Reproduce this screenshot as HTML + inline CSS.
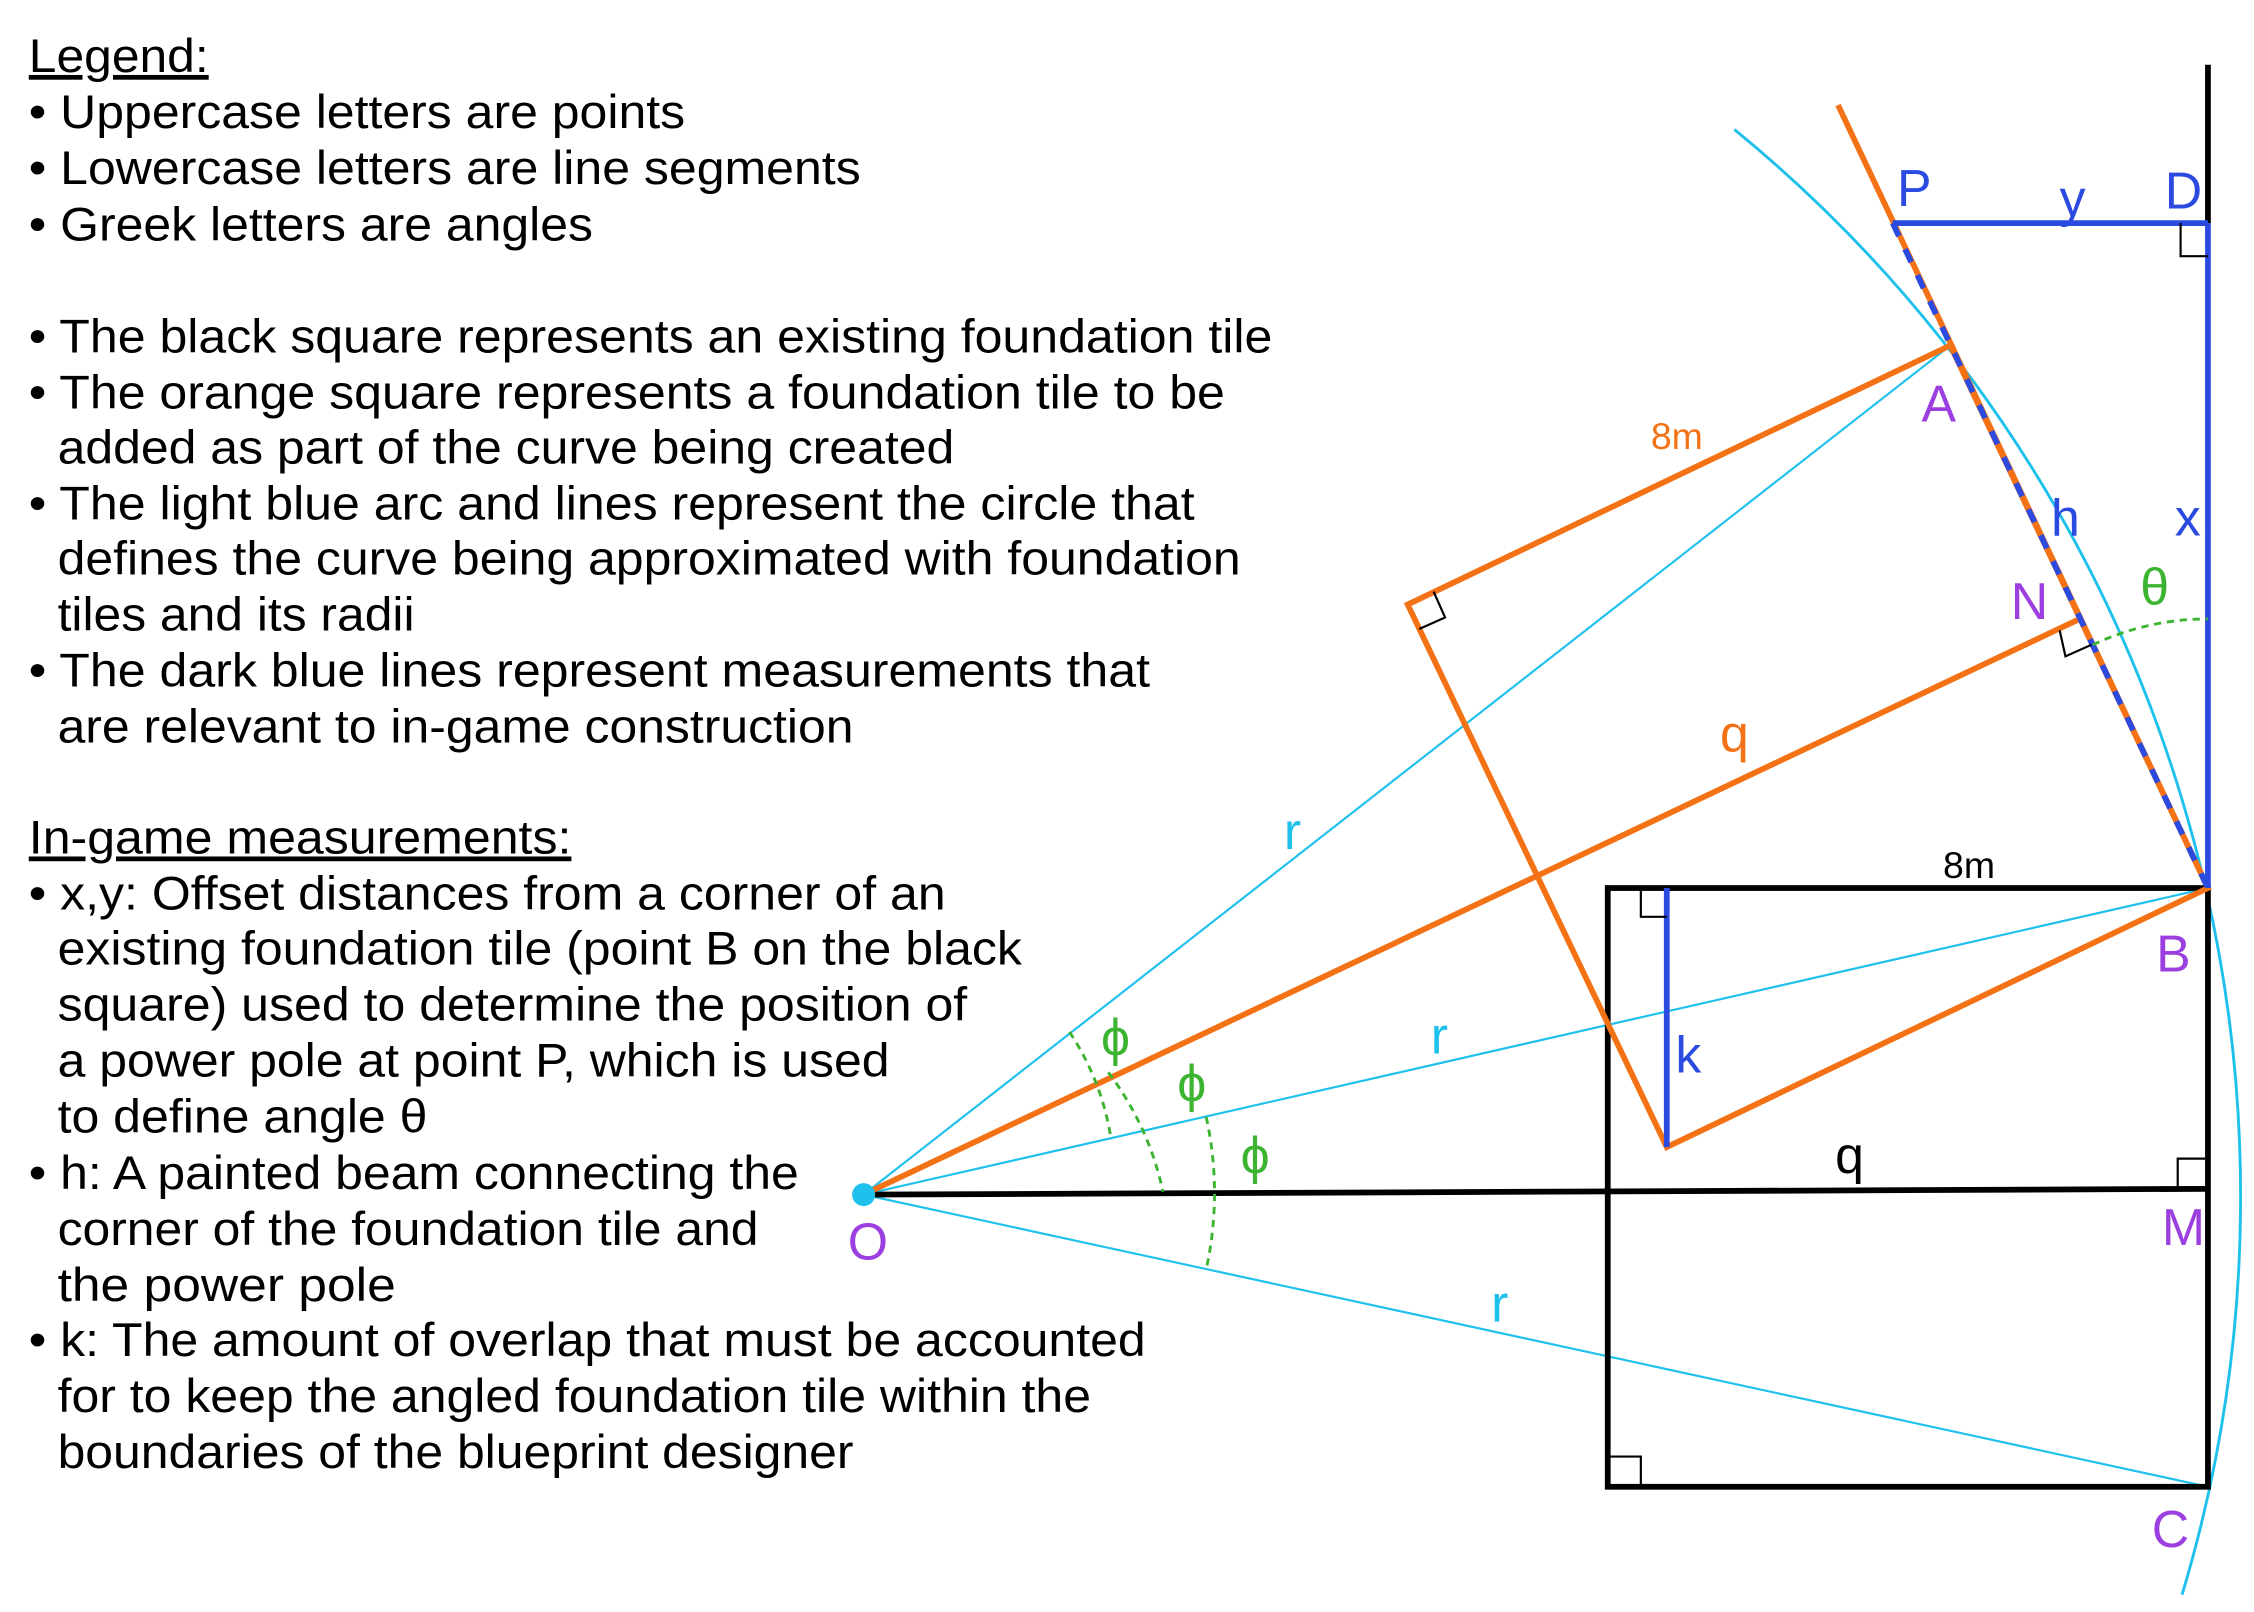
<!DOCTYPE html>
<html><head><meta charset="utf-8"><style>
html,body{margin:0;padding:0;background:#fff;}
svg{display:block;}
text{font-family:"Liberation Sans",sans-serif;}
</style></head><body>
<svg width="2254" height="1612" viewBox="0 0 1566 1120" preserveAspectRatio="none" xmlns="http://www.w3.org/2000/svg">
<rect width="1566" height="1120" fill="#fff"/>
<g font-size="33" fill="#000" lengthAdjust="spacingAndGlyphs">
<text x="20" y="50" text-decoration="underline" textLength="125" lengthAdjust="spacingAndGlyphs">Legend:</text>
<text x="20" y="89" textLength="456" lengthAdjust="spacingAndGlyphs">• Uppercase letters are points</text>
<text x="20" y="128" textLength="578" lengthAdjust="spacingAndGlyphs">• Lowercase letters are line segments</text>
<text x="20" y="167" textLength="392" lengthAdjust="spacingAndGlyphs">• Greek letters are angles</text>
<text x="20" y="245" textLength="864" lengthAdjust="spacingAndGlyphs">• The black square represents an existing foundation tile</text>
<text x="20" y="284" textLength="831" lengthAdjust="spacingAndGlyphs">• The orange square represents a foundation tile to be</text>
<text x="40" y="322" textLength="623" lengthAdjust="spacingAndGlyphs">added as part of the curve being created</text>
<text x="20" y="361" textLength="810" lengthAdjust="spacingAndGlyphs">• The light blue arc and lines represent the circle that</text>
<text x="40" y="399" textLength="822" lengthAdjust="spacingAndGlyphs">defines the curve being approximated with foundation</text>
<text x="40" y="438" textLength="248" lengthAdjust="spacingAndGlyphs">tiles and its radii</text>
<text x="20" y="477" textLength="779" lengthAdjust="spacingAndGlyphs">• The dark blue lines represent measurements that</text>
<text x="40" y="516" textLength="553" lengthAdjust="spacingAndGlyphs">are relevant to in-game construction</text>
<text x="20" y="593" text-decoration="underline" textLength="377" lengthAdjust="spacingAndGlyphs">In-game measurements:</text>
<text x="20" y="632" textLength="637" lengthAdjust="spacingAndGlyphs">• x,y: Offset distances from a corner of an</text>
<text x="40" y="670" textLength="670" lengthAdjust="spacingAndGlyphs">existing foundation tile (point B on the black</text>
<text x="40" y="709" textLength="632" lengthAdjust="spacingAndGlyphs">square) used to determine the position of</text>
<text x="40" y="748" textLength="578" lengthAdjust="spacingAndGlyphs">a power pole at point P, which is used</text>
<text x="40" y="787" textLength="257" lengthAdjust="spacingAndGlyphs">to define angle θ</text>
<text x="20" y="826" textLength="535" lengthAdjust="spacingAndGlyphs">• h: A painted beam connecting the</text>
<text x="40" y="865" textLength="487" lengthAdjust="spacingAndGlyphs">corner of the foundation tile and</text>
<text x="40" y="904" textLength="235" lengthAdjust="spacingAndGlyphs">the power pole</text>
<text x="20" y="942" textLength="776" lengthAdjust="spacingAndGlyphs">• k: The amount of overlap that must be accounted</text>
<text x="40" y="981" textLength="718" lengthAdjust="spacingAndGlyphs">for to keep the angled foundation tile within the</text>
<text x="40" y="1020" textLength="553" lengthAdjust="spacingAndGlyphs">boundaries of the blueprint designer</text>
</g>
<path d="M1205 90 A958 958 0 0 1 1516 1108" fill="none" stroke="#1ec0ec" stroke-width="2"/>
<g stroke="#1ec0ec" stroke-width="1.5">
<line x1="600" y1="830" x2="1355" y2="240"/>
<line x1="600" y1="830" x2="1534" y2="617"/>
<line x1="600" y1="830" x2="1534" y2="1033"/>
</g>
<rect x="1117" y="617" width="417" height="416" fill="none" stroke="#000" stroke-width="4"/>
<line x1="600" y1="830" x2="1534" y2="826" stroke="#000" stroke-width="4"/>
<line x1="1534" y1="45" x2="1534" y2="155" stroke="#000" stroke-width="4"/>
<g stroke="#f47216" stroke-width="4" fill="none">
<polygon points="1355,240 978,420 1158,797 1534,617"/>
<line x1="600" y1="830" x2="1445" y2="430"/>
<line x1="1277" y1="73" x2="1534" y2="617"/>
</g>
<line x1="1315" y1="155" x2="1534" y2="617" stroke="#2b4be0" stroke-width="4" stroke-dasharray="10 10"/>
<g stroke="#2b4be0" stroke-width="4">
<line x1="1315" y1="155" x2="1534" y2="155"/>
<line x1="1534" y1="155" x2="1534" y2="617"/>
<line x1="1158" y1="617" x2="1158" y2="797"/>
</g>
<g fill="none" stroke="#000" stroke-width="1.5">
<polyline points="1515,155 1515,178 1534,178"/>
<polyline points="1140,617 1140,637 1158,637"/>
<polyline points="1513,826 1513,805 1534,805"/>
<polyline points="1117,1012 1140,1012 1140,1033"/>
<polyline points="996,411 1004,429 986,437"/>
<polyline points="1453,448 1435,456 1431,438"/>
</g>
<g fill="none" stroke="#3cb431" stroke-width="2" stroke-dasharray="5 4">
<path d="M743 717 A182 182 0 0 1 772 792"/>
<path d="M770 745 A210 210 0 0 1 808 828"/>
<path d="M838 776 A245 245 0 0 1 838 882"/>
<path d="M1454 448 A187 187 0 0 1 1534 430"/>
</g>
<circle cx="600" cy="830" r="8" fill="#1ec0ec"/>
<g font-size="36" text-anchor="middle">
<text x="1330" y="143" fill="#2b4be0">P</text>
<text x="1440" y="150" fill="#2b4be0">y</text>
<text x="1517" y="145" fill="#2b4be0">D</text>
<text x="1347" y="293" fill="#9b3fe0">A</text>
<text x="1435" y="372" fill="#2b4be0">h</text>
<text x="1520" y="372" fill="#2b4be0">x</text>
<text x="1497" y="420" fill="#3cb431">θ</text>
<text x="1410" y="430" fill="#9b3fe0">N</text>
<text x="1205" y="522" fill="#f47216">q</text>
<text x="898" y="590" fill="#1ec0ec">r</text>
<text x="1510" y="675" fill="#9b3fe0">B</text>
<text x="1173" y="745" fill="#2b4be0">k</text>
<text x="1000" y="732" fill="#1ec0ec">r</text>
<text x="775" y="733" fill="#3cb431">ϕ</text>
<text x="828" y="765" fill="#3cb431">ϕ</text>
<text x="872" y="815" fill="#3cb431">ϕ</text>
<text x="1285" y="815" fill="#000">q</text>
<text x="1517" y="865" fill="#9b3fe0">M</text>
<text x="603" y="875" fill="#9b3fe0">O</text>
<text x="1042" y="918" fill="#1ec0ec">r</text>
<text x="1508" y="1075" fill="#9b3fe0">C</text>
</g>
<text x="1165" y="312" font-size="26" fill="#f47216" text-anchor="middle">8m</text>
<text x="1368" y="610" font-size="26" fill="#000" text-anchor="middle">8m</text>
</svg>
</body></html>
